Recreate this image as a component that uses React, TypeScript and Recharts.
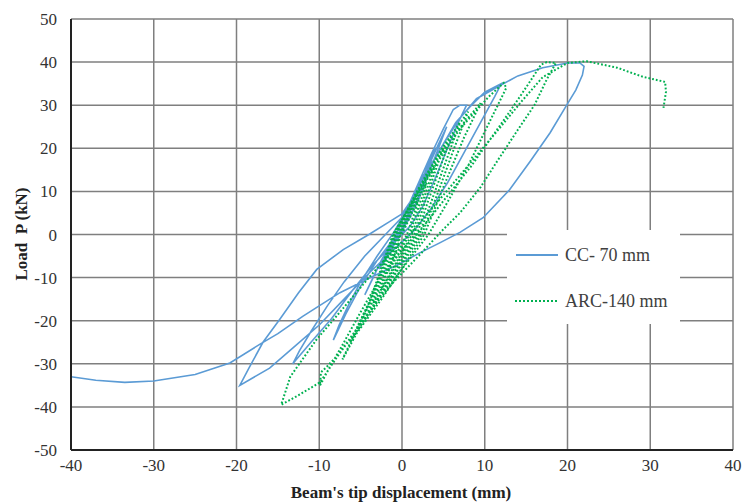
import { ComposedChart, Line, XAxis, YAxis, CartesianGrid, Legend } from 'recharts';

// Beam tip displacement (mm) vs load (kN) in drawing order
const ccPath: [number, number][] = [
    [0, 0], [0.6, 4], [1.4, 9], [2.6, 14], [1.8, 9.5], [0.8, 4.5], [0, 1.5], [-1, -2], [-2, -5], [-2.8, -8],
    [-2, -6], [-1, -2.5], [0, 1.5], [1, 6], [2, 10.5], [3, 15.5], [4, 20], [3.2, 15], [2, 9], [1, 4], [0, 1],
    [-1.5, -3], [-3, -8], [-4.5, -14],
    [-3.6, -10.5], [-2.5, -6], [-1, -1], [0, 3], [1.5, 9], [3, 15], [4.3, 20.5], [5.4, 25], [4.6, 21], [3.4, 15],
    [2, 8], [0.5, 2.5], [-1, -1], [-3, -6], [-5, -12], [-6.8, -18.5], [-8.3, -24.5],
    [-7.6, -21], [-6.5, -16.5], [-5, -11], [-3, -5], [-1, 0.5], [0.5, 5.5], [2, 12], [3.5, 18.5], [5, 24.5],
    [6.2, 29], [7, 30], [7.8, 30], [6.8, 26], [5.5, 20], [4, 13], [2.5, 6.5], [1, 2], [-1, -2], [-3.5, -7],
    [-6, -13], [-8.5, -19.5], [-11, -25], [-13.2, -30],
    [-12.4, -27], [-11, -22.5], [-9, -16.5], [-7, -11], [-4.5, -5], [-2, 0], [0, 4], [2, 11], [3.5, 16], [5, 21],
    [6.5, 26], [8.2, 29.6], [10, 33], [12, 35], [11.2, 32], [9.5, 26], [7.5, 19], [5.5, 12], [3.5, 6], [1.5, 1],
    [-1, -3.5], [-4, -9], [-7, -15], [-10, -21], [-13, -26], [-16, -31], [-19.6, -35],
    [-18.5, -31], [-16.8, -25], [-14.7, -19.5], [-12.5, -13.5], [-10.3, -8.1], [-7.1, -3.5], [-4, 0], [-1.5, 3],
    [0, 4.8], [1.5, 9], [3, 14.5], [5, 21], [7, 27], [9, 31.5], [11.8, 34.5], [14, 36.8], [17, 38.7], [20, 39.8],
    [21.5, 39.8], [22, 39], [21.8, 37], [21, 33.5], [19.9, 30], [17.9, 23.6], [15.5, 17], [13, 10.4], [9.8, 3.9],
    [7, 0.5], [4.5, -2], [2.2, -4.2], [-0.5, -7], [-3.5, -9.7], [-7.5, -13.5], [-12, -19], [-15, -23],
    [-17.2, -25.5], [-20.8, -29.8], [-25, -32.5], [-30, -34], [-33.5, -34.3], [-37, -33.8], [-40, -33],
];

const arcPath: [number, number][] = [
    [0, 0], [1, 4.2], [2, 8],
    [1.5, 5], [0.6, 0], [-0.3, -3.2], [-1.2, -6],
    [-0.5, -3], [-0.2, 0], [1.4, 6.5], [3, 12],
    [2.2, 7.5], [0.9, 0], [-0.5, -4.8], [-1.8, -9],
    [-0.9, -4.5], [-0.3, 0], [1.8, 8.5], [4, 16],
    [3, 10.5], [1.2, 0], [-0.7, -6.5], [-2.6, -13],
    [-1.4, -6.5], [-0.5, 0], [1, 6], [2.8, 13.5], [5, 20],
    [3.8, 13.5], [1.5, 0], [-1, -8], [-3.5, -16],
    [-1.8, -8], [-0.7, 0], [1.2, 7], [3.5, 15.5], [6, 23],
    [4.6, 15.5], [3.2, 8], [1.8, 0], [-1.2, -9.5], [-4.3, -19],
    [-2.4, -10], [-0.8, 0], [1.5, 8.5], [4.2, 18], [7, 26],
    [5.5, 18], [3.8, 9], [2.1, 0], [-1.6, -11], [-5.3, -22],
    [-2.9, -11.5], [-0.9, 0], [1.8, 10], [5, 20.5], [8, 28.5],
    [6.3, 20], [4.4, 10], [2.4, 0], [-2, -12.5], [-6.3, -25],
    [-3.3, -13], [-1, 0], [2.2, 11], [6, 22.5], [9.5, 30.5],
    [7.5, 22.5], [5, 11], [2.7, 0], [-2.3, -14.5], [-5.5, -23], [-7.2, -29],
    [-4, -16], [-1.1, 0], [2.8, 12.5], [7, 24.5], [10.5, 32], [12.3, 35.2],
    [12.6, 34], [10.8, 27], [8, 16], [5.5, 7.5], [3.2, 0], [0, -8], [-3.5, -17], [-7.5, -27.5], [-9, -30.5],
    [-9.8, -32], [-9.9, -35],
    [-8.8, -31], [-7.3, -26], [-5, -18], [-2.3, -9], [0.3, -3], [2.3, 1.2], [5.3, 8.5], [8.3, 15.7], [11, 23],
    [13.2, 29], [15.3, 35], [16.8, 39.4], [17.5, 40], [18.6, 39.8],
    [17.5, 36], [16, 30], [14, 24.3], [11.5, 17], [9.5, 11], [7, 5], [5, 1.2], [2, -5], [-1, -11], [-4, -18],
    [-7, -26], [-9.9, -34.3], [-12.7, -37.5], [-14.6, -39.5],
    [-13.5, -33], [-12.3, -29.7], [-10.3, -24.3], [-7.5, -18], [-4, -10], [-1, -3.5], [1.2, 0.5], [4.5, 8],
    [8, 16], [11.5, 24], [14.5, 31], [17, 36.5], [20, 39.8], [22.3, 40.2], [26, 38.7], [29.1, 36.6],
    [31.8, 35.4], [31.9, 33.1], [31.6, 29.4],
];

const xTicks = [-40, -30, -20, -10, 0, 10, 20, 30, 40];
const yTicks = [-50, -40, -30, -20, -10, 0, 10, 20, 30, 40, 50];

const ccData = ccPath.map(([x, y]) => ({ x, y }));
const arcData = arcPath.map(([x, y]) => ({ x, y }));

const FONT = '"Liberation Serif", "Times New Roman", serif';
const BLUE = '#5B9BD5';
const GREEN = '#00B050';
const TEXT = '#333';

const tickText = { fontFamily: FONT, fontSize: 17, fill: TEXT };

const XTick = ({ x, y, payload }: any) => (
    <text x={x} y={y} dy={15} textAnchor="middle" style={tickText}>
        {payload.value}
    </text>
);

const YTick = ({ x, y, payload }: any) => (
    <text x={x} y={y} dy={6} textAnchor="end" style={tickText}>
        {payload.value}
    </text>
);

function LegendBox() {
    return (
        <div style={{ position: 'relative', background: '#fff', width: 173, height: 94, fontFamily: FONT, fontSize: 18, color: '#404040', lineHeight: '20px' }}>
            <div style={{ position: 'absolute', left: 9, top: 24, width: 42, borderTop: `2px solid ${BLUE}` }} />
            <div style={{ position: 'absolute', left: 58, top: 15, whiteSpace: 'nowrap' }}>CC- 70 mm</div>
            <div style={{ position: 'absolute', left: 8, top: 70, width: 42, borderTop: `2px dotted ${GREEN}` }} />
            <div style={{ position: 'absolute', left: 58, top: 61, whiteSpace: 'nowrap' }}>ARC-140 mm</div>
        </div>
    );
}

export default function App() {
    return (
        <div style={{ position: 'absolute', left: 0, top: 0, width: 742, height: 503, background: '#fff', fontFamily: FONT }}>
            <ComposedChart width={742} height={503} margin={{ top: 19, right: 9, bottom: 23, left: 0 }}>
                <CartesianGrid stroke="#7f7f7f" strokeWidth={1.5} horizontalValues={yTicks} verticalValues={xTicks} />
                <XAxis
                    type="number"
                    dataKey="x"
                    domain={[-40, 40]}
                    ticks={xTicks}
                    allowDataOverflow
                    height={30}
                    axisLine={{ stroke: '#222', strokeWidth: 2 }}
                    tickLine={false}
                    tick={<XTick />}
                    tickMargin={0}
                />
                <YAxis
                    type="number"
                    dataKey="y"
                    domain={[-50, 50]}
                    ticks={yTicks}
                    allowDataOverflow
                    width={71}
                    axisLine={{ stroke: '#222', strokeWidth: 2 }}
                    tickLine={false}
                    tick={<YTick />}
                    tickMargin={8}
                />
                <Legend
                    layout="horizontal"
                    verticalAlign="middle"
                    align="center"
                    wrapperStyle={{ left: 507, top: 230, width: 173, height: 94 }}
                    content={() => <LegendBox />}
                />
                <Line
                    data={ccData}
                    dataKey="y"
                    name="CC- 70 mm"
                    type="linear"
                    stroke={BLUE}
                    strokeWidth={1.6}
                    dot={false}
                    activeDot={false}
                    isAnimationActive={false}
                />
                <Line
                    data={arcData}
                    dataKey="y"
                    name="ARC-140 mm"
                    type="linear"
                    stroke={GREEN}
                    strokeWidth={2}
                    strokeDasharray="1.8 2"
                    dot={false}
                    activeDot={false}
                    isAnimationActive={false}
                />
            </ComposedChart>
            <div style={{
                position: 'absolute', left: 22, top: 234, transform: 'translate(-50%, -50%) rotate(-90deg)',
                whiteSpace: 'nowrap', fontFamily: FONT, fontWeight: 'bold', fontSize: 17, color: '#222',
            }}>
                Load&nbsp; P (kN)
            </div>
            <div style={{
                position: 'absolute', left: 401, top: 493, transform: 'translate(-50%, -50%)',
                whiteSpace: 'nowrap', fontFamily: FONT, fontWeight: 'bold', fontSize: 17, color: '#222',
            }}>
                Beam's tip displacement (mm)
            </div>
        </div>
    );
}
